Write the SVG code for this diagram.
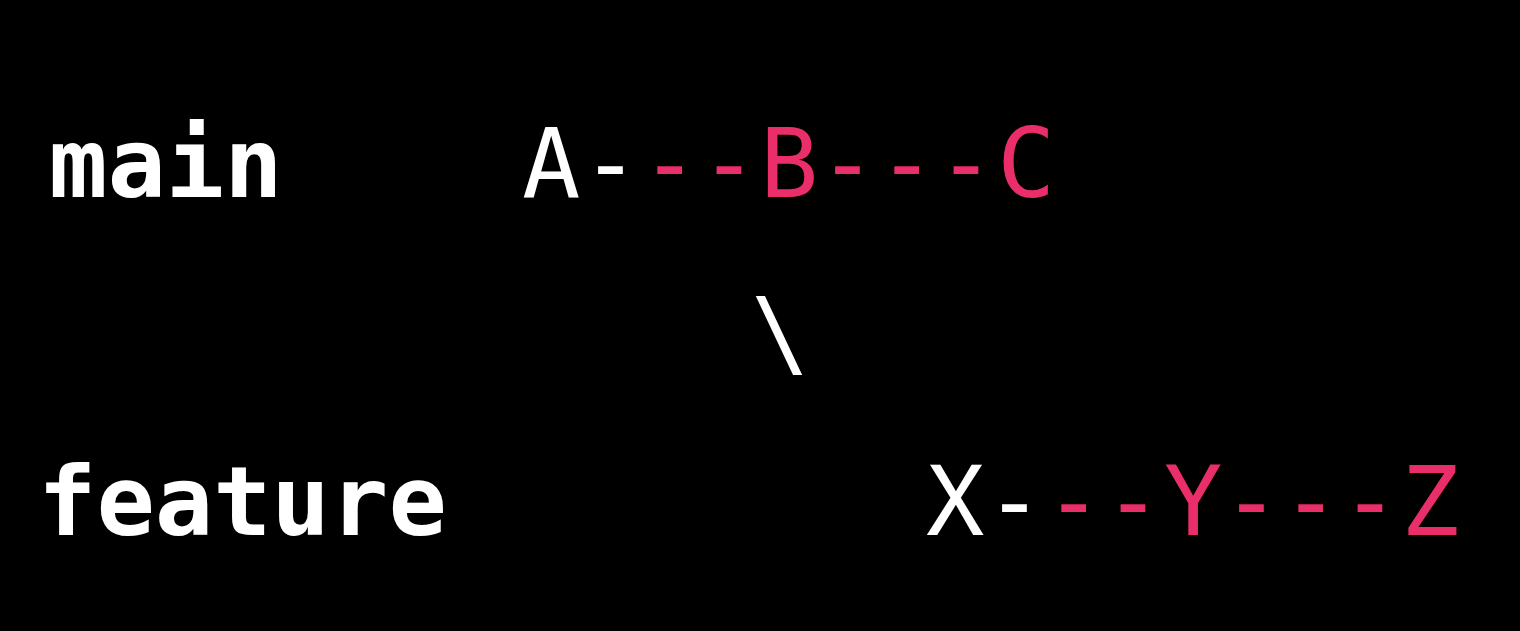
<svg xmlns="http://www.w3.org/2000/svg" width="1520" height="631" viewBox="0 0 1520 631">
<style>
.t{font-family:"DejaVu Sans Mono","Liberation Mono",monospace;font-size:97px;}
.lbl{font-weight:bold;fill:#ffffff;}
.w{fill:#ffffff;}
.p{fill:#ea2e69;}
</style>
<rect width="1520" height="631" fill="#000000"/>
<g id="label-main"><text class="t lbl" x="49" y="197">main</text></g>
<g id="label-feature"><text class="t lbl" x="38" y="535">feature</text></g>
<g id="commit-A"><text class="t w" x="522" y="197">A</text></g>
<g id="commit-B"><text class="t p" x="760" y="197">B</text></g>
<g id="commit-C"><text class="t p" x="997" y="197">C</text></g>
<g id="commit-X"><text class="t w" x="926" y="535">X</text></g>
<g id="commit-Y"><text class="t p" x="1164" y="535">Y</text></g>
<g id="commit-Z"><text class="t p" x="1401" y="535">Z</text></g>
<g id="connectors">
<text class="t w" x="581.25" y="197">-</text>
<text class="t p" x="640.5 699.75" y="197">--</text>
<text class="t p" x="818.25 877.5 936.75" y="197">---</text>
<text class="t w" x="985.25" y="535">-</text>
<text class="t p" x="1044.5 1103.75" y="535">--</text>
<text class="t p" x="1222.25 1281.5 1340.75" y="535">---</text>
<text class="t w" x="751" y="366">\</text>
</g>
</svg>
